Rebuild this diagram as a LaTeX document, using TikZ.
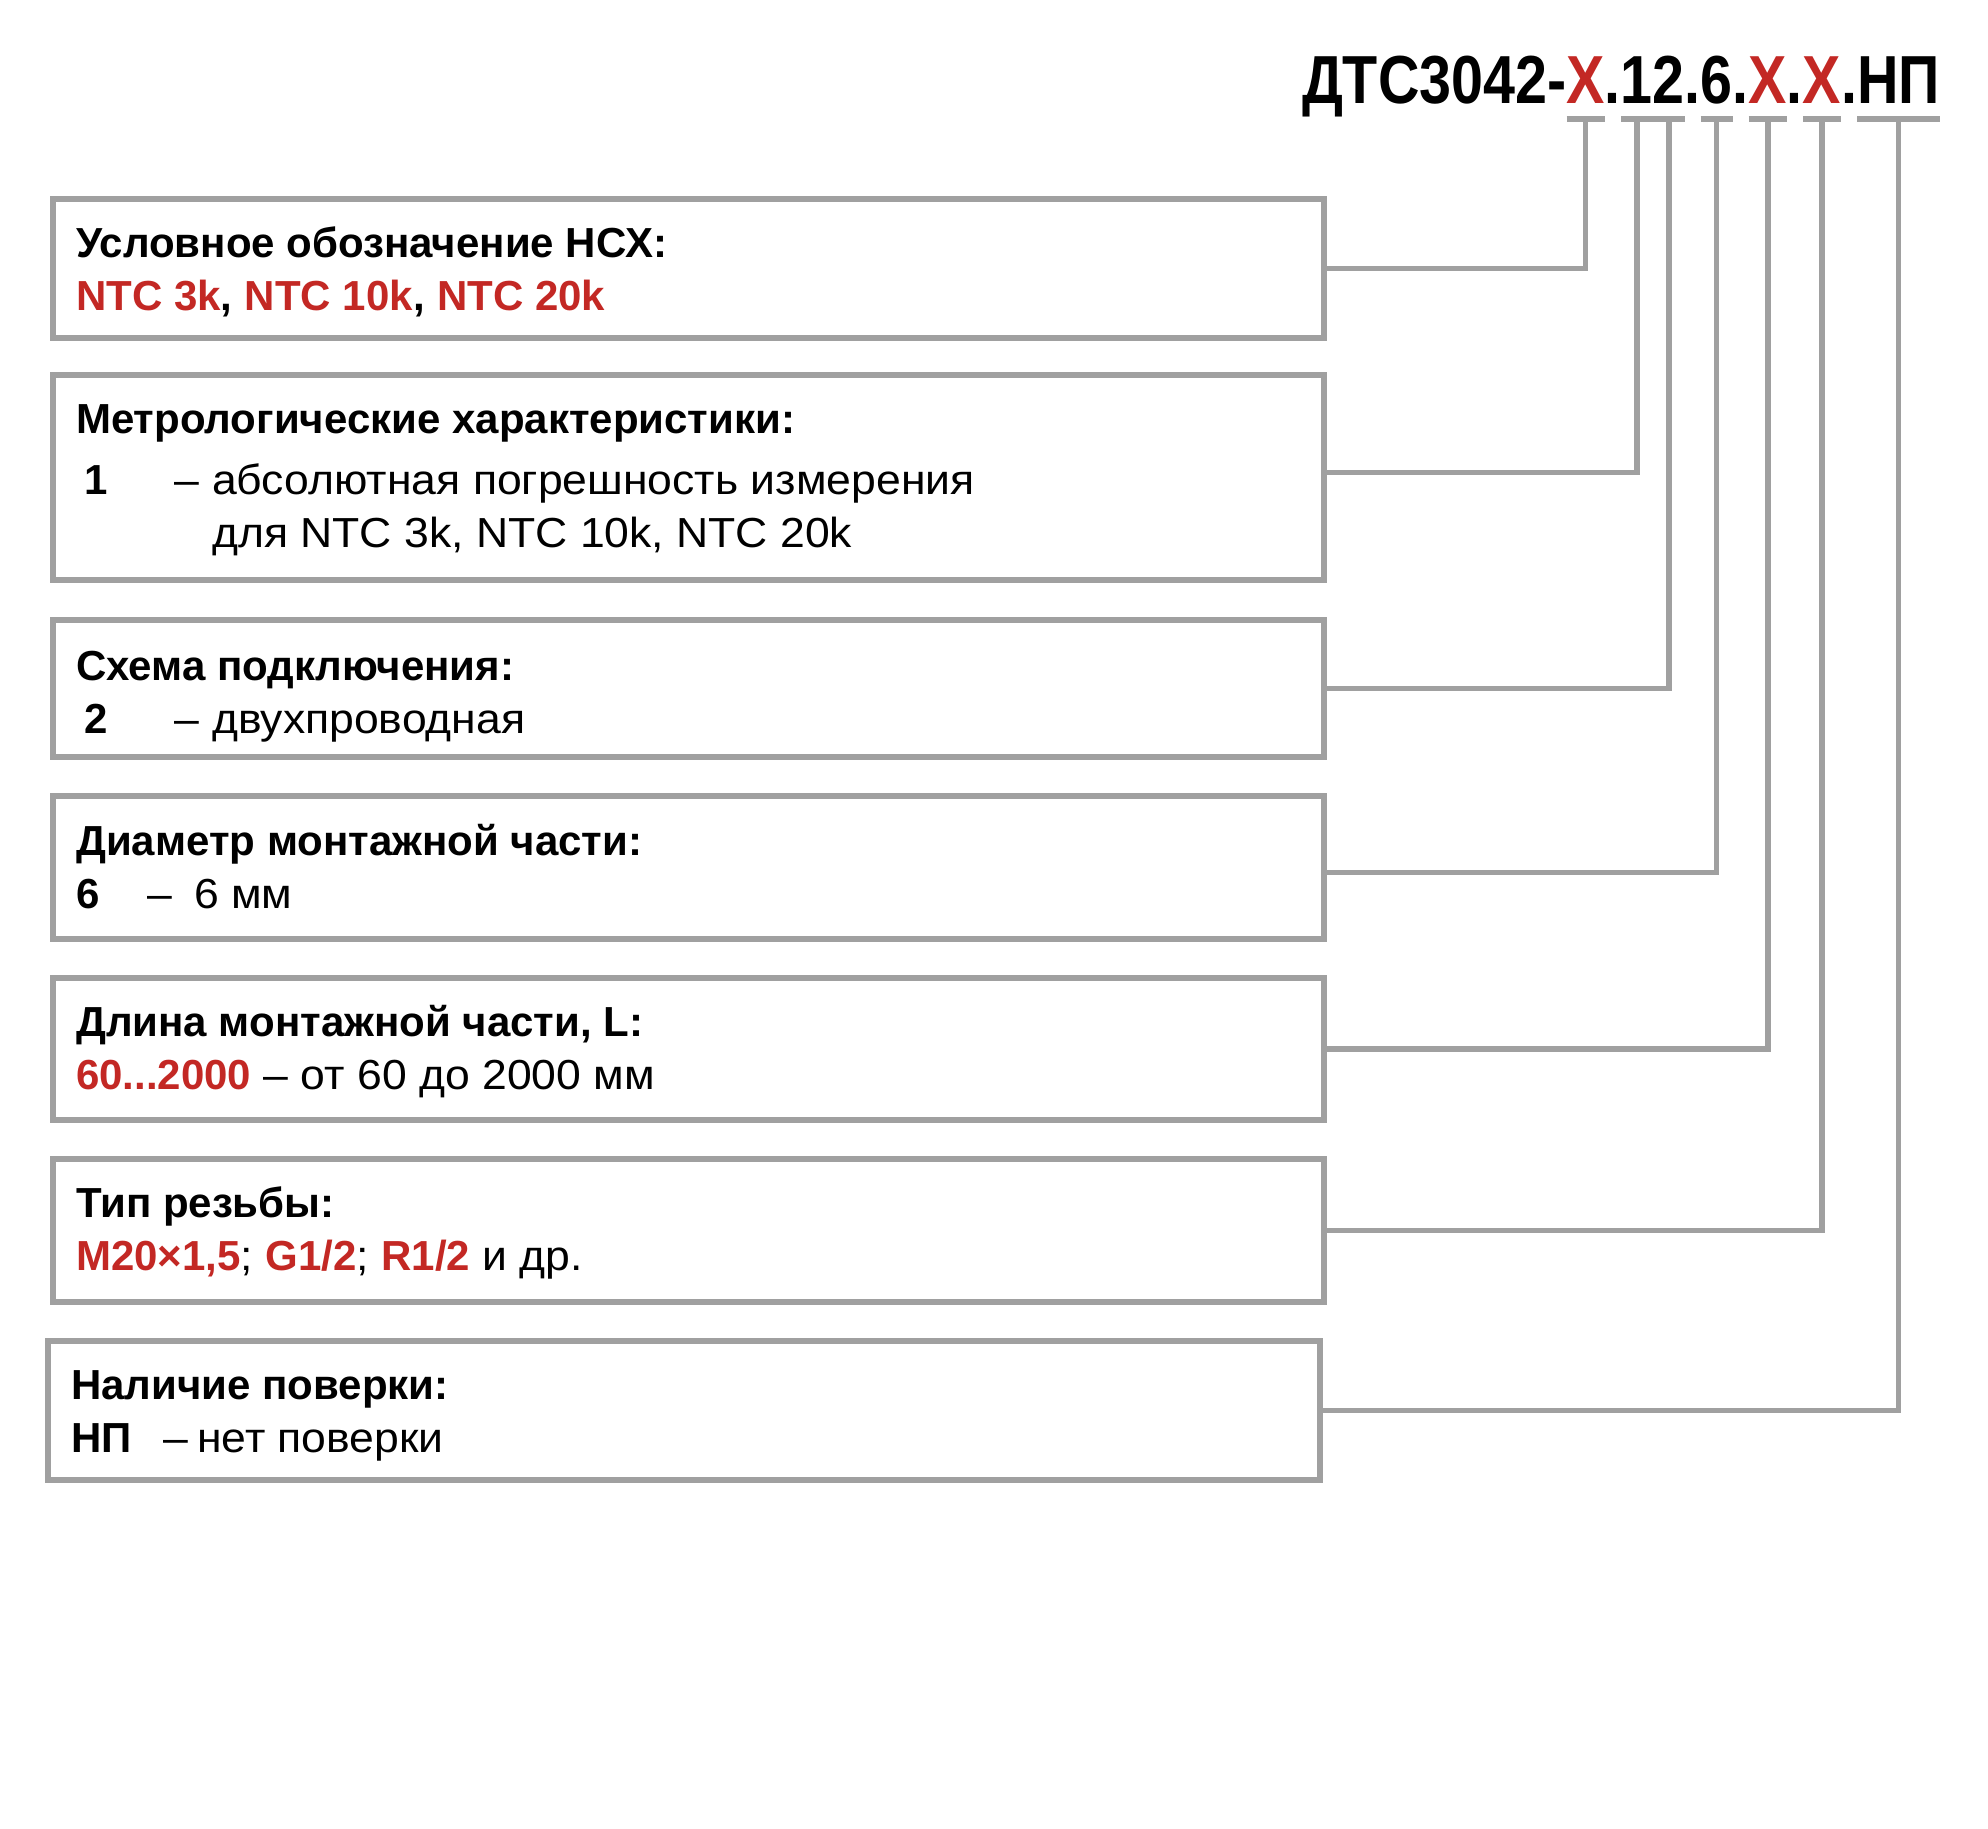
\documentclass[tikz,border=0pt]{standalone}
\usepackage{fontspec}
\setmainfont[UprightFeatures={FakeStretch=1.06}]{Liberation Sans}
\newfontfamily\codefont[FakeStretch=0.845]{Liberation Sans}
\usetikzlibrary{positioning, calc}
\definecolor{framegray}{RGB}{160,160,160}
\definecolor{codered}{RGB}{195,40,36}
\newcommand{\hl}[1]{\textcolor{codered}{\textbf{#1}}}

\begin{document}
\begin{tikzpicture}[x=1pt, y=-1pt,
	box/.style={draw=framegray, line width=5.6pt, minimum width=1271pt, inner sep=0pt},
	entry/.style={anchor=base west, align=left, inner sep=0pt, font=\fontsize{42}{53}\selectfont},
	chr/.style={inner sep=0pt, outer sep=0pt, font=\codefont\bfseries\fontsize{68}{68}\selectfont},
	link/.style={draw=framegray, line width=5.6pt}]
	\useasboundingbox (0,0) rectangle (1988,1828);

	% order code
	\node[chr, anchor=base west] (pre) at (1302,103) {ДТС3042-};
	\node[chr, base right=0pt of pre, text=codered] (k1) {X};
	\node[chr, base right=0pt of k1] (p1) {.};
	\node[chr, base right=0pt of p1] (k2) {1};
	\node[chr, base right=0pt of k2] (k3) {2};
	\node[chr, base right=0pt of k3] (p2) {.};
	\node[chr, base right=0pt of p2] (k4) {6};
	\node[chr, base right=0pt of k4] (p3) {.};
	\node[chr, base right=0pt of p3, text=codered] (k5) {X};
	\node[chr, base right=0pt of k5] (p4) {.};
	\node[chr, base right=0pt of p4, text=codered] (k6) {X};
	\node[chr, base right=0pt of k6] (p5) {.};
	\node[chr, base right=0pt of p5] (k7) {НП};
	\coordinate (tickrow) at (0,119);
	\foreach \k in {1,...,7}
		\draw[link] (k\k.west |- tickrow) -- (k\k.east |- tickrow);

	% boxes
	\node[box, minimum height=139pt] (b1) at (688.5,268.5) {};
	\node[box, minimum height=205pt] (b2) at (688.5,477.5) {};
	\node[box, minimum height=137pt] (b3) at (688.5,688.5) {};
	\node[box, minimum height=143pt] (b4) at (688.5,867.5) {};
	\node[box, minimum height=142pt] (b5) at (688.5,1049) {};
	\node[box, minimum height=143pt] (b6) at (688.5,1230.5) {};
	\node[box, minimum height=139pt, minimum width=1272pt] (b7) at (684,1410.5) {};

	% texts (anchored at the last baseline)
	\node[entry] (t1) at (76,310) {\textbf{Условное обозначение НСХ:}\\
		\hl{NTC 3k}\textbf{,} \hl{NTC 10k}\textbf{,} \hl{NTC 20k}};
	\node[entry] (t2) at (76,547) {\textbf{Метрологические характеристики:}\\[8pt]
		\hspace*{8pt}\makebox[90pt][l]{\textbf{1}}\makebox[38pt][l]{–}абсолютная погрешность измерения\\
		\hspace*{136pt}для NTC 3k, NTC 10k, NTC 20k};
	\node[entry] (t3) at (76,733) {\textbf{Схема подключения:}\\
		\hspace*{8pt}\makebox[90pt][l]{\textbf{2}}\makebox[38pt][l]{–}двухпроводная};
	\node[entry] (t4) at (76,908) {\textbf{Диаметр монтажной части:}\\
		\makebox[71pt][l]{\textbf{6}}\makebox[47pt][l]{–}6 мм};
	\node[entry] (t5) at (76,1089) {\textbf{Длина монтажной части, L:}\\
		\hl{60...2000} – от 60 до 2000 мм};
	\node[entry] (t6) at (76,1270) {\textbf{Тип резьбы:}\\
		\hl{M20×1,5}; \hl{G1/2}; \hl{R1/2} и др.};
	\node[entry] (t7) at (71,1452) {\textbf{Наличие поверки:}\\
		\makebox[92pt][l]{\textbf{НП}}\makebox[34pt][l]{–}нет поверки};

	% connectors
	\draw[link] (b1.east) -| (k1 |- tickrow);
	\draw[link] ($(b2.east)+(0,-5)$) -| (k2 |- tickrow);
	\draw[link] (b3.east) -| (k3 |- tickrow);
	\draw[link] ($(b4.east)+(0,5)$) -| (k4 |- tickrow);
	\draw[link] (b5.east) -| (k5 |- tickrow);
	\draw[link] (b6.east) -| (k6 |- tickrow);
	\draw[link] (b7.east) -| (k7 |- tickrow);
\end{tikzpicture}
\end{document}
